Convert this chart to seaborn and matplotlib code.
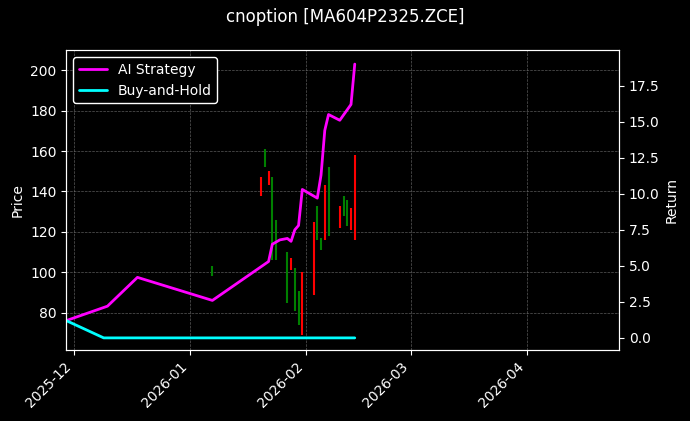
import pandas as pd
import numpy as np
import matplotlib
matplotlib.use("Agg")
import matplotlib.pyplot as plt
import matplotlib.dates as mdates
import seaborn as sns

# === Candles (date, open, close) ===
candle_dates = ["2025-12-09", "2026-01-07", "2026-01-20", "2026-01-21", "2026-01-22",
                "2026-01-23", "2026-01-24", "2026-01-27", "2026-01-28", "2026-01-29",
                "2026-01-30", "2026-01-31", "2026-02-03", "2026-02-04", "2026-02-05",
                "2026-02-06", "2026-02-07", "2026-02-10", "2026-02-11", "2026-02-12",
                "2026-02-13", "2026-02-14"]
candle_open = [196, 98, 147, 152, 150, 106, 106, 85, 107, 81, 74, 100, 125, 116, 111, 143, 118, 133, 128, 123, 132, 158]
candle_close = [186, 103, 138, 161, 143, 147, 126, 110, 101, 102, 91, 69, 89, 133, 117, 116, 152, 122, 138, 136, 121, 116]

# === Returns ===
ai_dates = ["2025-11-29", "2025-12-10", "2025-12-18", "2026-01-07", "2026-01-22",
            "2026-01-23", "2026-01-25", "2026-01-27", "2026-01-28", "2026-01-29",
            "2026-01-30", "2026-01-31", "2026-02-04", "2026-02-05", "2026-02-06",
            "2026-02-07", "2026-02-10", "2026-02-13", "2026-02-14"]
ai_return = [1.2, 2.2, 4.2, 2.6, 5.3, 6.5, 6.8, 6.9, 6.7, 7.5, 7.8, 10.3, 9.7, 11.3, 14.4, 15.5, 15.1, 16.2, 19.0]
bh_dates = ["2025-11-29", "2025-12-09", "2026-02-14"]
bh_return = [1.2, 0.0, 0.0]

sns.set_style("dark")
plt.rcParams.update({
    "figure.facecolor": "black", "axes.facecolor": "black",
    "text.color": "white", "axes.labelcolor": "white",
    "xtick.color": "white", "ytick.color": "white",
    "axes.edgecolor": "white", "font.family": ["DejaVu Sans"],
    "xtick.bottom": True, "ytick.left": True,
})

fig, ax = plt.subplots(figsize=(6.9, 4.21), dpi=100)
ax2 = ax.twinx()

cd = pd.to_datetime(candle_dates)
for d, o, c in zip(cd, candle_open, candle_close):
    col = "green" if c >= o else "red"
    ax.vlines(d, min(o, c), max(o, c), color=col, linewidth=1.5)

sns.lineplot(x=pd.to_datetime(ai_dates), y=ai_return, ax=ax2, color="magenta", linewidth=2, label="AI Strategy")
sns.lineplot(x=pd.to_datetime(bh_dates), y=bh_return, ax=ax2, color="cyan", linewidth=2, label="Buy-and-Hold")

ax.set_xlim(pd.Timestamp("2025-11-29 00:00"), pd.Timestamp("2026-04-25 12:00"))
ax.set_ylim(61.7, 209.9)
ax2.set_ylim(-0.83, 19.97)
ax.set_ylabel("Price")
ax2.set_ylabel("Return")
ax.set_xlabel("")
ax.grid(True, color="gray", linestyle="--", linewidth=0.5, alpha=0.7)
ax.xaxis.set_major_locator(mdates.MonthLocator())
ax.xaxis.set_major_formatter(mdates.DateFormatter("%Y-%m"))
for spine in list(ax.spines.values()) + list(ax2.spines.values()):
    spine.set_color("white")
ax2.tick_params(axis="y", colors="white", right=True)
plt.setp(ax.get_xticklabels(), rotation=45, ha="right")

leg = ax2.legend(loc="upper left", facecolor="black", edgecolor="white", framealpha=1)
for t in leg.get_texts():
    t.set_color("white")

fig.suptitle("cnoption [MA604P2325.ZCE]", color="white")
fig.subplots_adjust(left=0.096, right=0.897, top=0.881, bottom=0.169)
fig.savefig("out.png", dpi=100, facecolor="black")
